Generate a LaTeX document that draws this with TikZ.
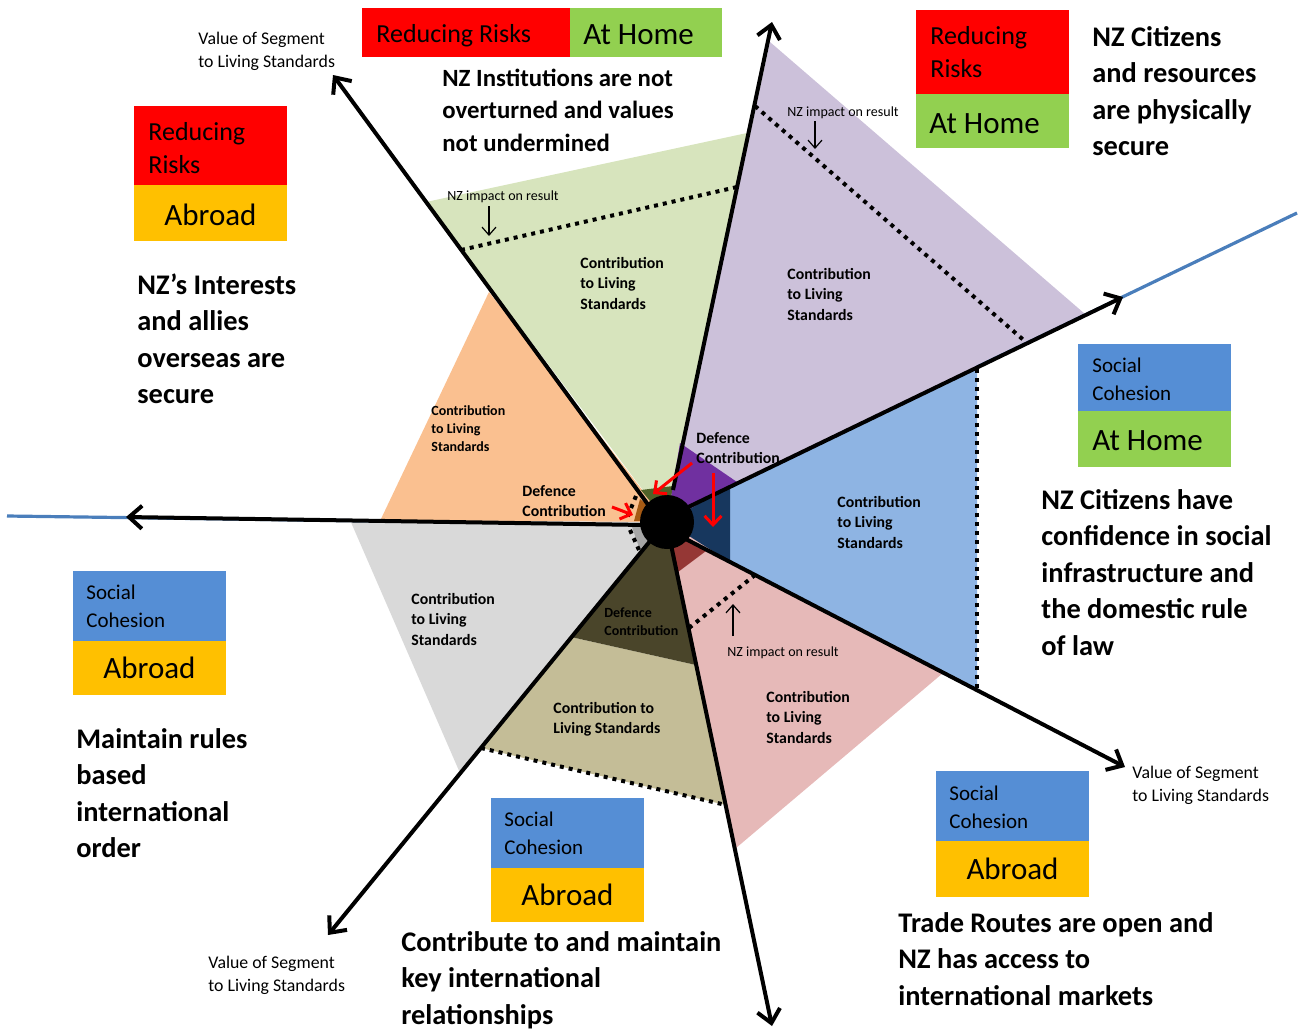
\documentclass[tikz,border=0pt]{standalone}
\usepackage{fontspec}
\setmainfont{Carlito}
\usetikzlibrary{arrows.meta}

\definecolor{segGreen}{HTML}{D7E4BD}
\definecolor{segLilac}{HTML}{CCC1DA}
\definecolor{segOrange}{HTML}{FAC090}
\definecolor{segGrey}{HTML}{D9D9D9}
\definecolor{segTan}{HTML}{C4BD97}
\definecolor{segPink}{HTML}{E6B9B8}
\definecolor{segBlue}{HTML}{8EB4E3}
\definecolor{defGreen}{HTML}{4F6228}
\definecolor{defPurple}{HTML}{7030A0}
\definecolor{defNavy}{HTML}{17375E}
\definecolor{defRed}{HTML}{953735}
\definecolor{defOlive}{HTML}{4A452A}
\definecolor{defGrey}{HTML}{A6A6A6}
\definecolor{defBrown}{HTML}{A65A14}
\definecolor{boxRed}{HTML}{FF0000}
\definecolor{boxGreen}{HTML}{92D050}
\definecolor{boxOrange}{HTML}{FFC000}
\definecolor{boxBlue}{HTML}{558ED5}
\definecolor{lineBlue}{HTML}{4A7EBB}

\begin{document}
\begin{tikzpicture}[
	  x=0.5pt, y=-0.5pt,
	  axis/.style={line width=2pt, -{Straight Barb[length=6.5pt,width=11.5pt]}},
	  seam/.style={line width=1.6pt, lineBlue},
	  nzimpact/.style={line width=2pt, dash pattern=on 2pt off 2.5pt},
	  pointer/.style={line width=0.6pt, -{Straight Barb[length=4pt,width=7pt]}},
	  defarrow/.style={red, line width=1.5pt, -{Straight Barb[length=4.5pt,width=8.5pt]}},
	  goal/.style={anchor=base west, align=left, inner sep=0pt, font=\fontsize{14.2}{18.25}\selectfont\bfseries},
	  goalsm/.style={goal, font=\fontsize{12.4}{16.25}\selectfont\bfseries},
	  tag/.style={anchor=base west, align=left, inner sep=0pt, font=\fontsize{13}{16.5}\selectfont},
	  tagbig/.style={anchor=base west, inner sep=0pt, font=\fontsize{15.5}{18}\selectfont},
	  tagsoc/.style={anchor=base west, align=left, inner sep=0pt, font=\fontsize{10.5}{14}\selectfont},
	  value/.style={anchor=base west, align=left, inner sep=0pt, font=\fontsize{8.9}{11.5}\selectfont},
	  contrib/.style={anchor=base west, align=left, inner sep=0pt, font=\fontsize{7.9}{10.25}\selectfont\bfseries},
	  contribsm/.style={contrib, font=\fontsize{7}{9}\selectfont\bfseries},
	  impact/.style={anchor=base, inner sep=0pt, font=\fontsize{7}{8}\selectfont},
	]
	\useasboundingbox (0,0) rectangle (1301,1029);

	% segments
	\fill [segGreen] (667,522) -- (426,202) -- (747,133) -- cycle;
	\fill [segLilac] (667,522) -- (770,42) -- (1085,314) -- cycle;
	\fill [segOrange] (667,522) -- (489,292) -- (380,521) -- cycle;
	\fill [segGrey] (667,522) -- (350,520) -- (460,773) -- cycle;
	\fill [segTan] (571,637) -- (696,665) -- (726,805) -- (481,748) -- cycle;
	\fill [segPink] (667,522) -- (943,673) -- (736,848) -- cycle;
	\fill [segBlue] (730,486) -- (977,367) -- (977,689) -- (730,562) -- cycle;

	% defence parts
	\fill [defGreen] (667,522) -- (641,490) -- (673,486) -- cycle;
	\fill [defPurple] (667,522) -- (680,443) -- (737,482) -- cycle;
	\fill [defNavy] (667,522) -- (730,486) -- (730,562) -- cycle;
	\fill [defRed] (667,522) -- (706,551) -- (678,572) -- cycle;
	\fill [defOlive] (667,522) -- (696,665) -- (571,637) -- cycle;
	\fill [defGrey] (667,522) -- (641,553) -- (632,527) -- cycle;
	\fill [defBrown] (667,522) -- (634,521) -- (640,499) -- cycle;

	% NZ impact lines
	\draw [nzimpact] (461,250) -- (737,187);
	\draw [nzimpact] (755,106) -- (1027,343);
	\draw [nzimpact] (977,369) -- (977,689);
	\draw [nzimpact] (689,628) -- (755,575);
	\draw [nzimpact] (481,748) -- (726,805);
	\draw [nzimpact] (630,530) -- (639,550);
	\draw [nzimpact] (636,496) -- (627,518);

	\draw [seam] (977,367) -- (1297,213);
	\draw [seam] (380,521) -- (7,516);

	% axes
	\draw [axis] (652,510) -- (333,75);
	\draw [axis] (673,490) -- (772,22);
	\draw [axis] (680,511) -- (1123,297);
	\draw [axis] (680,536) -- (1125,767);
	\draw [axis] (670,540) -- (772,1026);
	\draw [axis] (655,535) -- (328,935);
	\draw [axis] (645,525) -- (126,517);

	\node [circle, fill=black, minimum size=27pt, inner sep=0pt] (hub) at (667,522) {};

	% impact pointers
	\node [impact] (impInst) at (503,200) {NZ impact on result};
	\node [impact] (impSecure) at (843,116) {NZ impact on result};
	\node [impact] (impTrade) at (783,656) {NZ impact on result};
	\draw [pointer] (489,206) -- (489,236);
	\draw [pointer] (815,121) -- (815,149);
	\draw [pointer] (733,636) -- (733,604);

	% defence arrows
	\draw [defarrow] (692,463) -- (653,494);
	\draw [defarrow] (713,473) -- (713,527);
	\draw [defarrow] (612,507) -- (633,515);

	% segment labels (placed at the baseline of their last line)
	\node [contrib] (cInst) at (580,309) {Contribution\\to Living\\Standards};
	\node [contrib] (cSecure) at (787,320) {Contribution\\to Living\\Standards};
	\node [contribsm] (cAllies) at (431,451) {Contribution\\to Living\\Standards};
	\node [contrib] (dAllies) at (522,516.5) {Defence\\Contribution};
	\node [contrib] (dHome) at (696,463.5) {Defence\\Contribution};
	\node [contrib] (cSocial) at (837,548) {Contribution\\to Living\\Standards};
	\node [contrib] (cTrade) at (766,743) {Contribution\\to Living\\Standards};
	\node [contrib] (cRules) at (411,645) {Contribution\\to Living\\Standards};
	\node [contrib] (cRel) at (553,733.5) {Contribution to\\Living Standards};
	\node [contribsm] (dRel) at (604,635) {Defence\\Contribution};

	% value labels
	\node [value] (valTL) at (198,67) {Value of Segment\\to Living Standards};
	\node [value] (valR) at (1132,801) {Value of Segment\\to Living Standards};
	\node [value] (valBL) at (208,991) {Value of Segment\\to Living Standards};

	% boxes
	\fill [boxRed] (134,106) rectangle (287,185);
	\fill [boxOrange] (134,185) rectangle (287,241);
	\node [tag] (rrAllies) at (148,173) {Reducing\\Risks};
	\node [tagbig, anchor=base] (abAllies) at (210.5,225) {Abroad};

	\fill [boxRed] (362,8) rectangle (570,57);
	\fill [boxGreen] (570,8) rectangle (722,57);
	\node [tag] (rrInst) at (376,42) {Reducing Risks};
	\node [tagbig] (ahInst) at (583,44) {At Home};

	\fill [boxRed] (916,10) rectangle (1069,94);
	\fill [boxGreen] (916,94) rectangle (1069,148);
	\node [tag] (rrSecure) at (930,77) {Reducing\\Risks};
	\node [tagbig] (ahSecure) at (929,133) {At Home};

	\fill [boxBlue] (1078,344) rectangle (1231,411);
	\fill [boxGreen] (1078,411) rectangle (1231,467);
	\node [tagsoc] (scSocial) at (1092,400) {Social\\Cohesion};
	\node [tagbig] (ahSocial) at (1092,450) {At Home};

	\fill [boxBlue] (73,571) rectangle (226,641);
	\fill [boxOrange] (73,641) rectangle (226,695);
	\node [tagsoc] (scRules) at (86,627) {Social\\Cohesion};
	\node [tagbig, anchor=base] (abRules) at (149.5,678) {Abroad};

	\fill [boxBlue] (491,798) rectangle (644,868);
	\fill [boxOrange] (491,868) rectangle (644,922);
	\node [tagsoc] (scRel) at (504,854) {Social\\Cohesion};
	\node [tagbig, anchor=base] (abRel) at (567.5,905) {Abroad};

	\fill [boxBlue] (936,771) rectangle (1089,841);
	\fill [boxOrange] (936,841) rectangle (1089,897);
	\node [tagsoc] (scTrade) at (949,828) {Social\\Cohesion};
	\node [tagbig, anchor=base] (abTrade) at (1012.5,879) {Abroad};

	% goals (placed at the baseline of their last line)
	\node [goalsm] (gInst) at (442,151) {NZ Institutions are not\\overturned and values\\not undermined};
	\node [goal] (gSecure) at (1092,155.5) {NZ Citizens\\and resources\\are physically\\secure};
	\node [goal] (gAllies) at (137,403.5) {NZ’s Interests\\and allies\\overseas are\\secure};
	\node [goal] (gSocial) at (1041,655) {NZ Citizens have\\confidence in social\\infrastructure and\\the domestic rule\\of law};
	\node [goal] (gRules) at (76,857.5) {Maintain rules\\based\\international\\order};
	\node [goal] (gRel) at (401,1024) {Contribute to and maintain\\key international\\relationships};
	\node [goal] (gTrade) at (898,1005) {Trade Routes are open and\\NZ has access to\\international markets};
	\end{tikzpicture}
\end{document}
